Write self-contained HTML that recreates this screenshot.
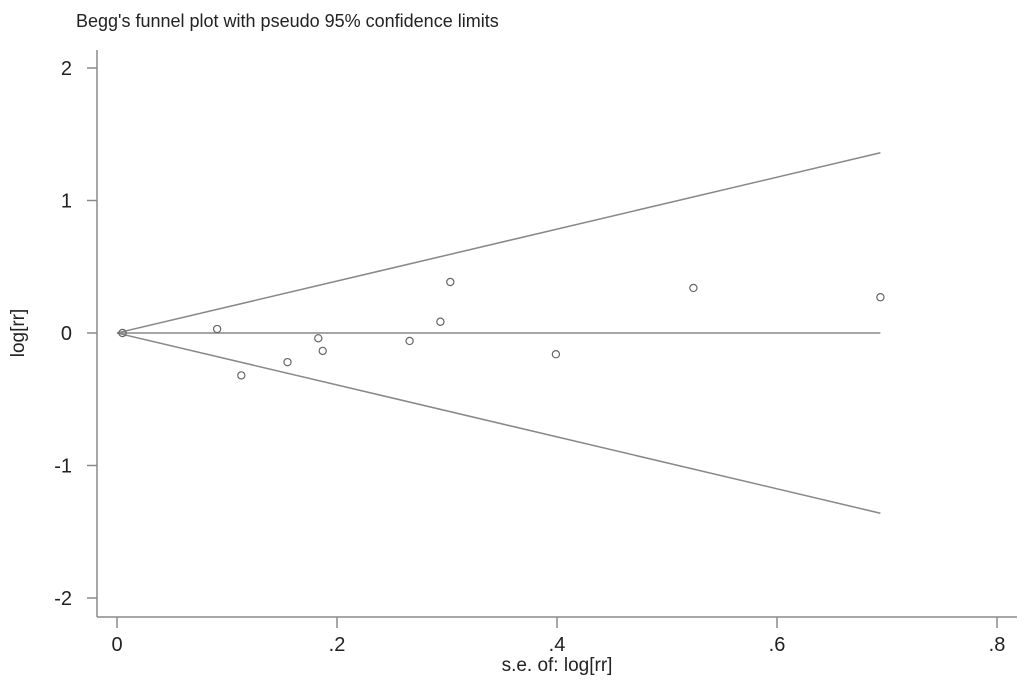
<!DOCTYPE html>
<html><head><meta charset="utf-8"><style>
html,body{margin:0;padding:0;background:#fff;}
svg{display:block;font-family:"Liberation Sans",Arial,sans-serif;}
</style></head><body>
<svg id="chart" width="1024" height="687" viewBox="0 0 1024 687" xmlns="http://www.w3.org/2000/svg">
<text x="76" y="27" font-size="18" fill="#222">Begg's funnel plot with pseudo 95% confidence limits</text>
<g id="axes"></g>
<g id="marks"></g>
<text x="557" y="671" font-size="19" text-anchor="middle" fill="#222">s.e. of: log[rr]</text>
<text transform="translate(24,333) rotate(-90)" font-size="19" text-anchor="middle" fill="#222">log[rr]</text>
</svg>
<script>
const seValues = [0.005, 0.091, 0.113, 0.155, 0.183, 0.187, 0.266, 0.294, 0.303, 0.399, 0.524, 0.694];
const logrrValues = [0.0, 0.03, -0.32, -0.22, -0.04, -0.135, -0.06, 0.085, 0.385, -0.16, 0.34, 0.27];
const pooledEstimate = [0.0];
const xTicks = [0, 0.2, 0.4, 0.6, 0.8];
const xTickLabels = ["0", ".2", ".4", ".6", ".8"];
const yTicks = [2, 1, 0, -1, -2];
const yTickLabels = ["2", "1", "0", "-1", "-2"];

const NS = "http://www.w3.org/2000/svg";
function xs(v){ return 117 + v * 1100; }
function ys(v){ return 333 - v * 132.5; }
function mk(tag, attrs, parent){
  const e = document.createElementNS(NS, tag);
  for (const k in attrs) e.setAttribute(k, attrs[k]);
  parent.appendChild(e); return e;
}
const axes = document.getElementById('axes');
const marks = document.getElementById('marks');
const ax = "#8a8a8a";
let l = mk('line', {x1:97, y1:50, x2:97, y2:617, stroke:ax, 'stroke-width':1.5}, axes);


l = mk('line', {x1:97, y1:617, x2:1017, y2:617, stroke:ax, 'stroke-width':1.5}, axes);


yTicks.forEach((v, i) => {
  const t = mk('line', {x1:87, y1:ys(v), x2:97, y2:ys(v), stroke:ax, 'stroke-width':1.5}, axes);
  
  
  const tx = mk('text', {x:72, y:ys(v)+7, 'font-size':20, 'text-anchor':'end', fill:'#222'}, axes);
  tx.textContent = yTickLabels[i];
  
  
});
xTicks.forEach((v, i) => {
  const t = mk('line', {x1:xs(v), y1:617, x2:xs(v), y2:628, stroke:ax, 'stroke-width':1.5}, axes);
  
  
  const tx = mk('text', {x:xs(v), y:651, 'font-size':20, 'text-anchor':'middle', fill:'#222'}, axes);
  tx.textContent = xTickLabels[i];
  
  
});
const seMax = Math.max(...seValues);
const est = pooledEstimate[0];
l = mk('line', {x1:xs(0), y1:ys(est), x2:xs(seMax), y2:ys(est), stroke:'#888', 'stroke-width':1.5}, marks);


l = mk('line', {x1:xs(0), y1:ys(est), x2:xs(seMax), y2:ys(est + 1.96*seMax), stroke:'#888', 'stroke-width':1.5}, marks);


l = mk('line', {x1:xs(0), y1:ys(est), x2:xs(seMax), y2:ys(est - 1.96*seMax), stroke:'#888', 'stroke-width':1.5}, marks);


seValues.forEach((s, i) => {
  const c = mk('circle', {cx:xs(s), cy:ys(logrrValues[i]), r:3.6, fill:'none', stroke:'#666', 'stroke-width':1.2}, marks);
  
  
});
</script>
</body></html>
